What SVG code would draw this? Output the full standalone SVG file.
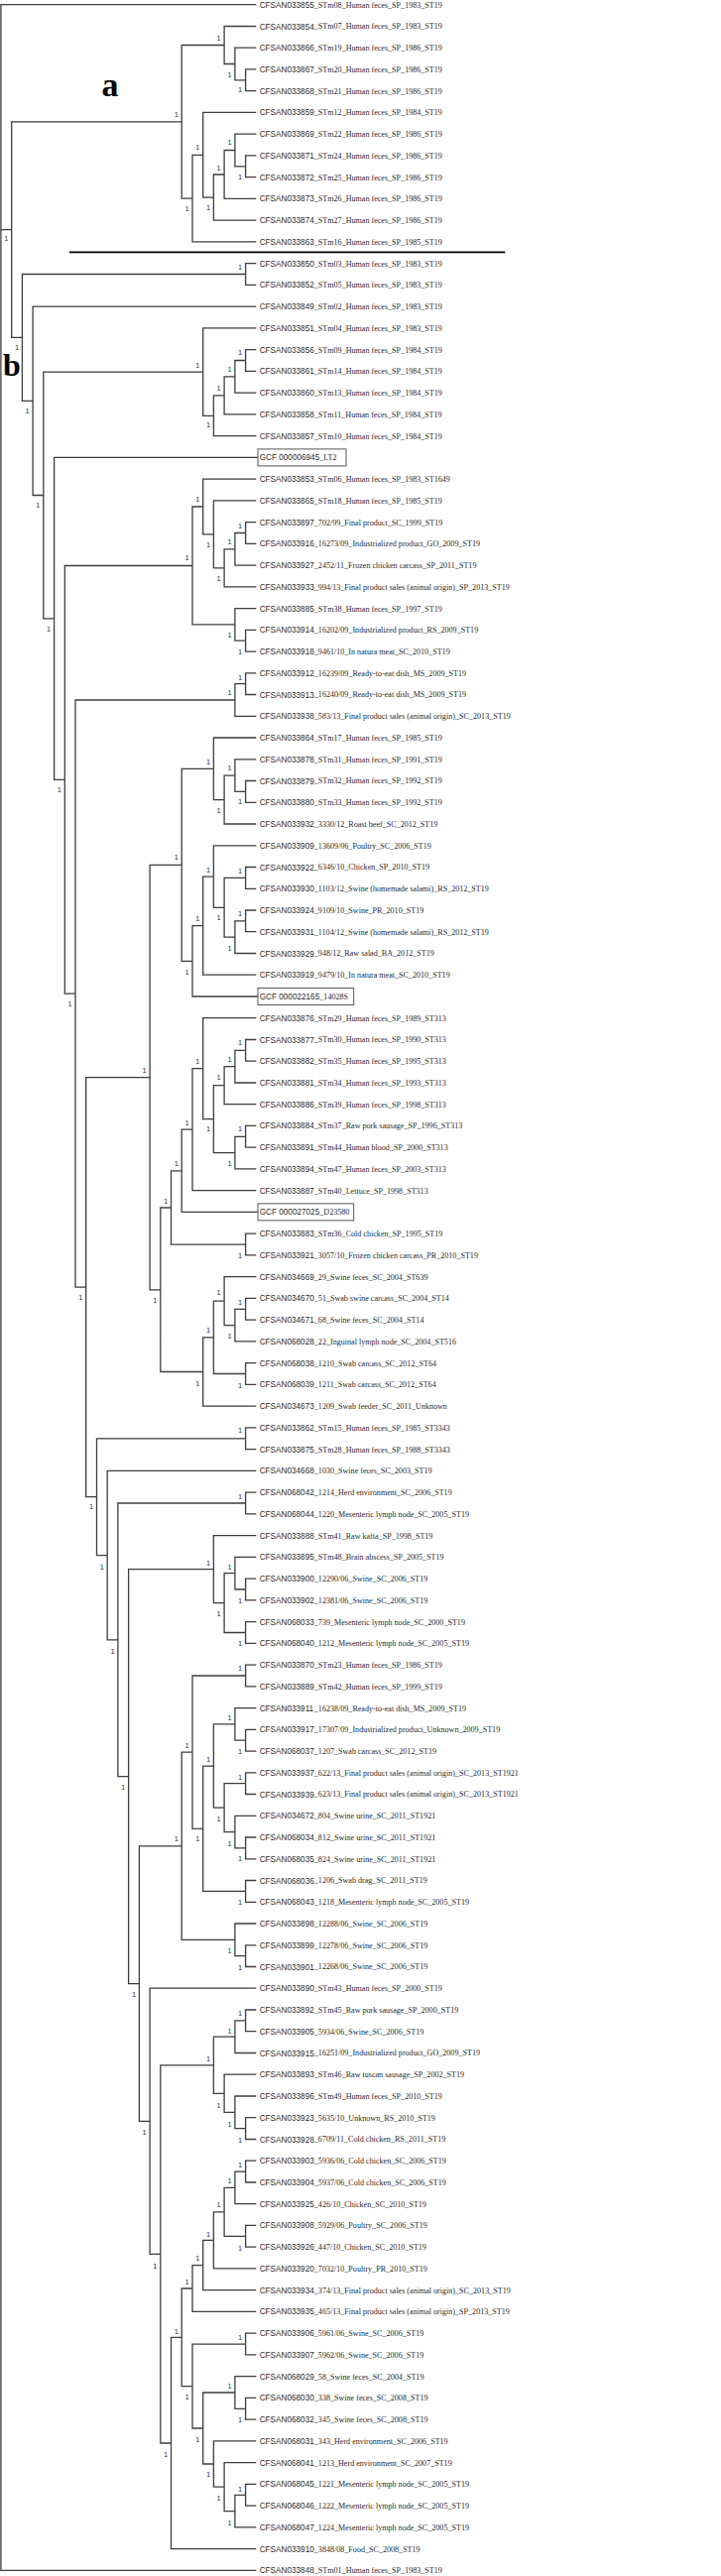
<svg xmlns="http://www.w3.org/2000/svg" width="727" height="2598" viewBox="0 0 727 2598">
<style>
.br{fill:none;stroke:#3d3d3d;stroke-width:1.3}
.i{font-family:"Liberation Sans",Arial,sans-serif;font-size:8.2px;fill:#2a2a2a}
.t{font-family:"Liberation Serif","Times New Roman",serif;font-size:8.8px;fill:#2a2a2a}
.bs{font-family:"Liberation Sans",Arial,sans-serif;font-size:7.5px;fill:#333;text-anchor:middle}
.big{font-family:"Liberation Serif","Times New Roman",serif;font-weight:bold;fill:#000;text-anchor:middle}
.box{fill:none;stroke:#555;stroke-width:1}
</style>
<rect width="727" height="2598" fill="#fff"/>
<g id="branches" class="br">
<path d="M258.3,69.9H247.6V91.7H258.3M258.3,48.2H236.9V80.8H247.6M258.3,26.5H226.1V64.5H236.9M258.3,156.9H247.6V178.7H258.3M258.3,135.2H236.9V167.8H247.6M236.9,151.5H226.1V200.4H258.3M226.1,176.0H215.4V222.2H258.3M258.3,113.4H204.7V199.1H215.4M204.7,156.3H194.0V243.9H258.3M226.1,45.5H183.2V200.1H194.0"/>
<path d="M258.3,265.6H247.6V287.4H258.3M258.3,352.6H247.6V374.4H258.3M247.6,363.5H236.9V396.1H258.3M236.9,379.8H226.1V417.9H258.3M226.1,398.9H215.4V439.6H258.3M258.3,330.9H204.7V419.3H215.4"/>
<path d="M258.3,526.6H247.6V548.3H258.3M247.6,537.5H236.9V570.1H258.3M236.9,553.8H226.1V591.8H258.3M258.3,504.8H215.4V572.8H226.1M258.3,483.1H204.7V538.8H215.4M258.3,635.3H247.6V657.1H258.3M258.3,613.6H236.9V646.2H247.6M204.7,511.0H194.0V629.9H236.9"/>
<path d="M258.3,678.8H247.6V700.5H258.3M247.6,689.7H236.9V722.3H258.3"/>
<path d="M258.3,787.5H247.6V809.3H258.3M258.3,765.8H236.9V798.4H247.6M236.9,782.1H226.1V831.0H258.3M258.3,744.0H215.4V806.6H226.1M258.3,874.5H247.6V896.3H258.3M258.3,918.0H247.6V939.7H258.3M247.6,928.9H236.9V961.5H258.3M247.6,885.4H226.1V945.2H236.9M258.3,852.8H215.4V915.3H226.1M215.4,884.1H204.7V983.2H258.3M204.7,933.7H194.0V1005.0H260M215.4,775.3H183.2V969.4H194.0"/>
<path d="M258.3,1048.5H247.6V1070.2H258.3M247.6,1059.4H236.9V1092.0H258.3M236.9,1075.7H226.1V1113.7H258.3M258.3,1135.4H247.6V1157.2H258.3M247.6,1146.3H236.9V1178.9H258.3M226.1,1094.7H215.4V1162.6H236.9M258.3,1026.7H204.7V1128.7H215.4M204.7,1077.7H194.0V1200.7H258.3M194.0,1139.2H183.2V1222.4H260M258.3,1244.2H247.6V1265.9H258.3M183.2,1180.8H172.5V1255.1H247.6"/>
<path d="M258.3,1309.4H247.6V1331.2H258.3M247.6,1320.3H236.9V1352.9H258.3M258.3,1287.7H226.1V1336.6H236.9M258.3,1374.6H247.6V1396.4H258.3M226.1,1312.2H215.4V1385.5H247.6M215.4,1348.9H204.7V1418.1H258.3M172.5,1218.0H161.8V1383.5H204.7M183.2,872.4H151.1V1300.8H161.8"/>
<path d="M258.3,1439.9H247.6V1461.6H258.3M258.3,1505.1H247.6V1526.9H258.3M258.3,1592.1H247.6V1613.8H258.3M258.3,1570.3H236.9V1603.0H247.6M258.3,1635.6H247.6V1657.3H258.3M236.9,1586.7H226.1V1646.5H247.6M258.3,1548.6H215.4V1616.6H226.1"/>
<path d="M258.3,1679.1H247.6V1700.8H258.3M258.3,1744.3H247.6V1766.1H258.3M258.3,1722.6H236.9V1755.2H247.6M258.3,1787.8H247.6V1809.5H258.3M258.3,1853.0H247.6V1874.8H258.3M258.3,1831.3H236.9V1863.9H247.6M247.6,1798.7H226.1V1847.6H236.9M236.9,1738.9H215.4V1823.2H226.1M258.3,1896.5H247.6V1918.3H258.3M215.4,1781.1H204.7V1907.4H247.6M247.6,1690.0H194.0V1844.3H204.7M258.3,1961.8H247.6V1983.5H258.3M258.3,1940.0H236.9V1972.7H247.6M194.0,1767.2H183.2V1956.4H236.9"/>
<path d="M258.3,2027.0H247.6V2048.7H258.3M247.6,2037.9H236.9V2070.5H258.3M258.3,2135.7H247.6V2157.5H258.3M258.3,2114.0H236.9V2146.6H247.6M258.3,2092.2H226.1V2130.3H236.9M236.9,2054.2H215.4V2111.3H226.1"/>
<path d="M258.3,2179.2H247.6V2201.0H258.3M247.6,2190.1H236.9V2222.7H258.3M258.3,2244.4H247.6V2266.2H258.3M236.9,2206.4H226.1V2255.3H247.6M226.1,2230.9H215.4V2287.9H258.3M215.4,2259.4H204.7V2309.7H258.3M204.7,2284.6H194.0V2331.4H258.3M258.3,2353.2H247.6V2374.9H258.3M258.3,2418.4H247.6V2440.1H258.3M258.3,2396.7H236.9V2429.3H247.6M258.3,2505.4H247.6V2527.1H258.3M247.6,2516.3H236.9V2548.9H258.3M258.3,2483.6H226.1V2532.6H236.9M258.3,2461.9H215.4V2508.1H226.1M236.9,2413.0H204.7V2485.0H215.4M247.6,2364.1H194.0V2449.0H204.7M194.0,2308.0H183.2V2406.6H194.0"/>
<path d="M183.2,2357.3H172.5V2570.6H258.3M215.4,2082.8H161.8V2464.0H172.5M258.3,2005.2H151.1V2273.4H161.8M183.2,1861.8H140.4V2139.3H151.1M215.4,1582.6H129.6V2000.6H140.4M247.6,1516.0H118.9V1791.6H129.6M258.3,1483.4H108.2V1653.8H118.9M247.6,1450.8H97.5V1568.6H108.2M151.1,1086.6H86.7V1509.7H97.5M236.9,706.0H76.0V1298.2H86.7M194.0,570.5H65.3V1002.1H76.0M260,461.4H54.6V786.3H65.3M204.7,375.1H43.8V623.9H54.6M258.3,309.1H33.1V499.5H43.8M247.6,276.5H22.4V404.3H33.1M183.2,122.8H11.7V340.4H22.4M258.3,4.7H0.9V2592.4H258.3M0.9,231.6H11.7"/>
</g>
<g id="clade-marks">
<text class="big" x="111" y="97" font-size="34">a</text>
<text class="big" x="12" y="378.5" font-size="32">b</text>
<path d="M70,254.3H509.3" stroke="#000" stroke-width="1.8" fill="none"/>
</g>
<g id="support" class="bs">
<text x="220.7" y="41.1">1</text><text x="231.5" y="77.8">1</text><text x="242.2" y="92.8">1</text><text x="177.8" y="117.8">1</text><text x="199.3" y="150.5">1</text><text x="231.5" y="146.1">1</text><text x="220.7" y="172.1">1</text><text x="242.2" y="181.1">1</text><text x="188.6" y="212.8">1</text><text x="210" y="212.1">1</text>
<text x="6.3" y="243.1">1</text><text x="242.2" y="271.5">1</text><text x="17" y="352.5">1</text><text x="199.3" y="370.5">1</text><text x="242.2" y="357.5">1</text><text x="231.5" y="374.8">1</text><text x="220.7" y="393.8">1</text><text x="27.7" y="417.1">1</text><text x="210" y="430.5">1</text>
<text x="199.3" y="506.1">1</text><text x="210" y="551.8">1</text><text x="242.2" y="532.8">1</text><text x="231.5" y="549.1">1</text><text x="220.7" y="586.1">1</text><text x="188.6" y="565.1">1</text><text x="38.4" y="511.8">1</text><text x="49.2" y="636.8">1</text><text x="231.5" y="642.8">1</text><text x="242.2" y="659.5">1</text>
<text x="242.2" y="685.5">1</text><text x="231.5" y="701.1">1</text><text x="210" y="770.5">1</text><text x="231.5" y="777.1">1</text><text x="242.2" y="810.5">1</text><text x="220.7" y="819.5">1</text><text x="59.9" y="798.8">1</text><text x="177.8" y="867.1">1</text><text x="210" y="880.1">1</text><text x="242.2" y="880.8">1</text>
<text x="220.7" y="928.1">1</text><text x="242.2" y="923.5">1</text><text x="199.3" y="929.1">1</text><text x="231.5" y="959.1">1</text><text x="188.6" y="983.1">1</text><text x="70.6" y="1015.1">1</text><text x="242.2" y="1054.1">1</text><text x="231.5" y="1070.8">1</text><text x="199.3" y="1072.5">1</text><text x="145.7" y="1081.5">1</text>
<text x="220.7" y="1088.8">1</text><text x="188.6" y="1134.5">1</text><text x="210" y="1141.1">1</text><text x="242.2" y="1141.1">1</text><text x="177.8" y="1176.1">1</text><text x="231.5" y="1176.1">1</text><text x="167.1" y="1213.8">1</text><text x="242.2" y="1268.8">1</text>
<text x="220.7" y="1306.3">1</text><text x="81.3" y="1310.8">1</text><text x="156.4" y="1314.1">1</text><text x="242.2" y="1315.5">1</text><text x="210" y="1344.1">1</text><text x="231.5" y="1349.8">1</text><text x="199.3" y="1397.5">1</text><text x="242.2" y="1399.8">1</text>
<text x="242.2" y="1444.8">1</text><text x="242.2" y="1511.5">1</text><text x="92.1" y="1522.3">1</text><text x="102.8" y="1582.5">1</text><text x="210" y="1578.5">1</text><text x="231.5" y="1582.5">1</text><text x="242.2" y="1616.8">1</text><text x="220.7" y="1630.1">1</text><text x="113.5" y="1667.5">1</text><text x="242.2" y="1660.1">1</text>
<text x="242.2" y="1685.1">1</text><text x="231.5" y="1734.5">1</text><text x="188.6" y="1762.8">1</text><text x="242.2" y="1768.8">1</text><text x="210" y="1777.1">1</text><text x="242.2" y="1794.8">1</text><text x="124.2" y="1804.8">1</text><text x="220.7" y="1837.1">1</text><text x="177.8" y="1857.1">1</text><text x="199.3" y="1857.1">1</text>
<text x="231.5" y="1861.5">1</text><text x="242.2" y="1877.1">1</text><text x="242.2" y="1920.5">1</text><text x="231.5" y="1969.8">1</text><text x="242.2" y="1986.5">1</text><text x="135" y="2014.1">1</text>
<text x="242.2" y="2033.1">1</text><text x="231.5" y="2050.8">1</text><text x="210" y="2078.5">1</text><text x="220.7" y="2125.8">1</text><text x="231.5" y="2144.8">1</text><text x="145.7" y="2153.1">1</text><text x="242.2" y="2160.8">1</text>
<text x="242.2" y="2186.1">1</text><text x="231.5" y="2202.1">1</text><text x="220.7" y="2226.1">1</text><text x="210" y="2256.1">1</text><text x="242.2" y="2269.5">1</text><text x="199.3" y="2280.1">1</text><text x="156.4" y="2287.8">1</text><text x="188.6" y="2303.8">1</text><text x="177.8" y="2353.8">1</text><text x="242.2" y="2360.1">1</text>
<text x="231.5" y="2409.1">1</text><text x="188.6" y="2419.8">1</text><text x="242.2" y="2443.1">1</text><text x="199.3" y="2462.5">1</text><text x="167.1" y="2478.1">1</text><text x="210" y="2498.1">1</text><text x="242.2" y="2512.5">1</text><text x="220.7" y="2521.5">1</text><text x="231.5" y="2546.5">1</text>
</g>
<g id="leaves">
<g id="leaf001"><text class="i" x="261.7" y="7.7">CFSAN033855</text><text class="t" transform="matrix(.92 0 0 1 316.8 0)" y="7.7">_STm08_Human feces_SP_1983_ST19</text></g>
<g id="leaf002"><text class="i" x="261.7" y="29.5">CFSAN033854</text><text class="t" transform="matrix(.92 0 0 1 316.8 0)" y="29.5">_STm07_Human feces_SP_1983_ST19</text></g>
<g id="leaf003"><text class="i" x="261.7" y="51.2">CFSAN033866</text><text class="t" transform="matrix(.92 0 0 1 316.8 0)" y="51.2">_STm19_Human feces_SP_1986_ST19</text></g>
<g id="leaf004"><text class="i" x="261.7" y="72.9">CFSAN033867</text><text class="t" transform="matrix(.92 0 0 1 316.8 0)" y="72.9">_STm20_Human feces_SP_1986_ST19</text></g>
<g id="leaf005"><text class="i" x="261.7" y="94.7">CFSAN033868</text><text class="t" transform="matrix(.92 0 0 1 316.8 0)" y="94.7">_STm21_Human feces_SP_1986_ST19</text></g>
<g id="leaf006"><text class="i" x="261.7" y="116.4">CFSAN033859</text><text class="t" transform="matrix(.92 0 0 1 316.8 0)" y="116.4">_STm12_Human feces_SP_1984_ST19</text></g>
<g id="leaf007"><text class="i" x="261.7" y="138.2">CFSAN033869</text><text class="t" transform="matrix(.92 0 0 1 316.8 0)" y="138.2">_STm22_Human feces_SP_1986_ST19</text></g>
<g id="leaf008"><text class="i" x="261.7" y="159.9">CFSAN033871</text><text class="t" transform="matrix(.92 0 0 1 316.8 0)" y="159.9">_STm24_Human feces_SP_1986_ST19</text></g>
<g id="leaf009"><text class="i" x="261.7" y="181.7">CFSAN033872</text><text class="t" transform="matrix(.92 0 0 1 316.8 0)" y="181.7">_STm25_Human feces_SP_1986_ST19</text></g>
<g id="leaf010"><text class="i" x="261.7" y="203.4">CFSAN033873</text><text class="t" transform="matrix(.92 0 0 1 316.8 0)" y="203.4">_STm26_Human feces_SP_1986_ST19</text></g>
<g id="leaf011"><text class="i" x="261.7" y="225.2">CFSAN033874</text><text class="t" transform="matrix(.92 0 0 1 316.8 0)" y="225.2">_STm27_Human feces_SP_1986_ST19</text></g>
<g id="leaf012"><text class="i" x="261.7" y="246.9">CFSAN033863</text><text class="t" transform="matrix(.92 0 0 1 316.8 0)" y="246.9">_STm16_Human feces_SP_1985_ST19</text></g>
<g id="leaf013"><text class="i" x="261.7" y="268.6">CFSAN033850</text><text class="t" transform="matrix(.92 0 0 1 316.8 0)" y="268.6">_STm03_Human feces_SP_1983_ST19</text></g>
<g id="leaf014"><text class="i" x="261.7" y="290.4">CFSAN033852</text><text class="t" transform="matrix(.92 0 0 1 316.8 0)" y="290.4">_STm05_Human feces_SP_1983_ST19</text></g>
<g id="leaf015"><text class="i" x="261.7" y="312.1">CFSAN033849</text><text class="t" transform="matrix(.92 0 0 1 316.8 0)" y="312.1">_STm02_Human feces_SP_1983_ST19</text></g>
<g id="leaf016"><text class="i" x="261.7" y="333.9">CFSAN033851</text><text class="t" transform="matrix(.92 0 0 1 316.8 0)" y="333.9">_STm04_Human feces_SP_1983_ST19</text></g>
<g id="leaf017"><text class="i" x="261.7" y="355.6">CFSAN033856</text><text class="t" transform="matrix(.92 0 0 1 316.8 0)" y="355.6">_STm09_Human feces_SP_1984_ST19</text></g>
<g id="leaf018"><text class="i" x="261.7" y="377.4">CFSAN033861</text><text class="t" transform="matrix(.92 0 0 1 316.8 0)" y="377.4">_STm14_Human feces_SP_1984_ST19</text></g>
<g id="leaf019"><text class="i" x="261.7" y="399.1">CFSAN033860</text><text class="t" transform="matrix(.92 0 0 1 316.8 0)" y="399.1">_STm13_Human feces_SP_1984_ST19</text></g>
<g id="leaf020"><text class="i" x="261.7" y="420.9">CFSAN033858</text><text class="t" transform="matrix(.92 0 0 1 316.8 0)" y="420.9">_STm11_Human feces_SP_1984_ST19</text></g>
<g id="leaf021"><text class="i" x="261.7" y="442.6">CFSAN033857</text><text class="t" transform="matrix(.92 0 0 1 316.8 0)" y="442.6">_STm10_Human feces_SP_1984_ST19</text></g>
<g id="leaf022"><rect class="box" x="260" y="452.9" width="89" height="17"/><text class="i" x="261.7" y="464.4">GCF 000006945</text><text class="t" transform="matrix(.92 0 0 1 316.8 0)" x="6" y="464.4">_LT2</text></g>
<g id="leaf023"><text class="i" x="261.7" y="486.1">CFSAN033853</text><text class="t" transform="matrix(.92 0 0 1 316.8 0)" y="486.1">_STm06_Human feces_SP_1983_ST1649</text></g>
<g id="leaf024"><text class="i" x="261.7" y="507.8">CFSAN033865</text><text class="t" transform="matrix(.92 0 0 1 316.8 0)" y="507.8">_STm18_Human feces_SP_1985_ST19</text></g>
<g id="leaf025"><text class="i" x="261.7" y="529.6">CFSAN033897</text><text class="t" transform="matrix(.92 0 0 1 316.8 0)" y="529.6">_702/99_Final product_SC_1999_ST19</text></g>
<g id="leaf026"><text class="i" x="261.7" y="551.3">CFSAN033916</text><text class="t" transform="matrix(.92 0 0 1 316.8 0)" y="551.3">_16273/09_Industrialized product_GO_2009_ST19</text></g>
<g id="leaf027"><text class="i" x="261.7" y="573.1">CFSAN033927</text><text class="t" transform="matrix(.92 0 0 1 316.8 0)" y="573.1">_2452/11_Frozen chicken carcass_SP_2011_ST19</text></g>
<g id="leaf028"><text class="i" x="261.7" y="594.8">CFSAN033933</text><text class="t" transform="matrix(.92 0 0 1 316.8 0)" y="594.8">_994/13_Final product sales (animal origin)_SP_2013_ST19</text></g>
<g id="leaf029"><text class="i" x="261.7" y="616.6">CFSAN033885</text><text class="t" transform="matrix(.92 0 0 1 316.8 0)" y="616.6">_STm38_Human feces_SP_1997_ST19</text></g>
<g id="leaf030"><text class="i" x="261.7" y="638.3">CFSAN033914</text><text class="t" transform="matrix(.92 0 0 1 316.8 0)" y="638.3">_16202/09_Industrialized product_RS_2009_ST19</text></g>
<g id="leaf031"><text class="i" x="261.7" y="660.1">CFSAN033918</text><text class="t" transform="matrix(.92 0 0 1 316.8 0)" y="660.1">_9461/10_In natura meat_SC_2010_ST19</text></g>
<g id="leaf032"><text class="i" x="261.7" y="681.8">CFSAN033912</text><text class="t" transform="matrix(.92 0 0 1 316.8 0)" y="681.8">_16239/09_Ready-to-eat dish_MS_2009_ST19</text></g>
<g id="leaf033"><text class="i" x="261.7" y="703.5">CFSAN033913</text><text class="t" transform="matrix(.92 0 0 1 316.8 0)" y="703.5">_16240/09_Ready-to-eat dish_MS_2009_ST19</text></g>
<g id="leaf034"><text class="i" x="261.7" y="725.3">CFSAN033938</text><text class="t" transform="matrix(.92 0 0 1 316.8 0)" y="725.3">_583/13_Final product sales (animal origin)_SC_2013_ST19</text></g>
<g id="leaf035"><text class="i" x="261.7" y="747.0">CFSAN033864</text><text class="t" transform="matrix(.92 0 0 1 316.8 0)" y="747.0">_STm17_Human feces_SP_1985_ST19</text></g>
<g id="leaf036"><text class="i" x="261.7" y="768.8">CFSAN033878</text><text class="t" transform="matrix(.92 0 0 1 316.8 0)" y="768.8">_STm31_Human feces_SP_1991_ST19</text></g>
<g id="leaf037"><text class="i" x="261.7" y="790.5">CFSAN033879</text><text class="t" transform="matrix(.92 0 0 1 316.8 0)" y="790.5">_STm32_Human feces_SP_1992_ST19</text></g>
<g id="leaf038"><text class="i" x="261.7" y="812.3">CFSAN033880</text><text class="t" transform="matrix(.92 0 0 1 316.8 0)" y="812.3">_STm33_Human feces_SP_1992_ST19</text></g>
<g id="leaf039"><text class="i" x="261.7" y="834.0">CFSAN033932</text><text class="t" transform="matrix(.92 0 0 1 316.8 0)" y="834.0">_3330/12_Roast beef_SC_2012_ST19</text></g>
<g id="leaf040"><text class="i" x="261.7" y="855.8">CFSAN033909</text><text class="t" transform="matrix(.92 0 0 1 316.8 0)" y="855.8">_13609/06_Poultry_SC_2006_ST19</text></g>
<g id="leaf041"><text class="i" x="261.7" y="877.5">CFSAN033922</text><text class="t" transform="matrix(.92 0 0 1 316.8 0)" y="877.5">_6346/10_Chicken_SP_2010_ST19</text></g>
<g id="leaf042"><text class="i" x="261.7" y="899.3">CFSAN033930</text><text class="t" transform="matrix(.92 0 0 1 316.8 0)" y="899.3">_1103/12_Swine (homemade salami)_RS_2012_ST19</text></g>
<g id="leaf043"><text class="i" x="261.7" y="921.0">CFSAN033924</text><text class="t" transform="matrix(.92 0 0 1 316.8 0)" y="921.0">_9109/10_Swine_PR_2010_ST19</text></g>
<g id="leaf044"><text class="i" x="261.7" y="942.7">CFSAN033931</text><text class="t" transform="matrix(.92 0 0 1 316.8 0)" y="942.7">_1104/12_Swine (homemade salami)_RS_2012_ST19</text></g>
<g id="leaf045"><text class="i" x="261.7" y="964.5">CFSAN033929</text><text class="t" transform="matrix(.92 0 0 1 316.8 0)" y="964.5">_948/12_Raw salad_BA_2012_ST19</text></g>
<g id="leaf046"><text class="i" x="261.7" y="986.2">CFSAN033919</text><text class="t" transform="matrix(.92 0 0 1 316.8 0)" y="986.2">_9479/10_In natura meat_SC_2010_ST19</text></g>
<g id="leaf047"><rect class="box" x="260" y="996.5" width="96.7" height="17"/><text class="i" x="261.7" y="1008.0">GCF 000022165</text><text class="t" transform="matrix(.92 0 0 1 316.8 0)" x="6" y="1008.0">_14028S</text></g>
<g id="leaf048"><text class="i" x="261.7" y="1029.7">CFSAN033876</text><text class="t" transform="matrix(.92 0 0 1 316.8 0)" y="1029.7">_STm29_Human feces_SP_1989_ST313</text></g>
<g id="leaf049"><text class="i" x="261.7" y="1051.5">CFSAN033877</text><text class="t" transform="matrix(.92 0 0 1 316.8 0)" y="1051.5">_STm30_Human feces_SP_1990_ST313</text></g>
<g id="leaf050"><text class="i" x="261.7" y="1073.2">CFSAN033882</text><text class="t" transform="matrix(.92 0 0 1 316.8 0)" y="1073.2">_STm35_Human feces_SP_1995_ST313</text></g>
<g id="leaf051"><text class="i" x="261.7" y="1095.0">CFSAN033881</text><text class="t" transform="matrix(.92 0 0 1 316.8 0)" y="1095.0">_STm34_Human feces_SP_1993_ST313</text></g>
<g id="leaf052"><text class="i" x="261.7" y="1116.7">CFSAN033886</text><text class="t" transform="matrix(.92 0 0 1 316.8 0)" y="1116.7">_STm39_Human feces_SP_1998_ST313</text></g>
<g id="leaf053"><text class="i" x="261.7" y="1138.4">CFSAN033884</text><text class="t" transform="matrix(.92 0 0 1 316.8 0)" y="1138.4">_STm37_Raw pork sausage_SP_1996_ST313</text></g>
<g id="leaf054"><text class="i" x="261.7" y="1160.2">CFSAN033891</text><text class="t" transform="matrix(.92 0 0 1 316.8 0)" y="1160.2">_STm44_Human blood_SP_2000_ST313</text></g>
<g id="leaf055"><text class="i" x="261.7" y="1181.9">CFSAN033894</text><text class="t" transform="matrix(.92 0 0 1 316.8 0)" y="1181.9">_STm47_Human feces_SP_2003_ST313</text></g>
<g id="leaf056"><text class="i" x="261.7" y="1203.7">CFSAN033887</text><text class="t" transform="matrix(.92 0 0 1 316.8 0)" y="1203.7">_STm40_Lettuce_SP_1998_ST313</text></g>
<g id="leaf057"><rect class="box" x="260" y="1213.9" width="96.7" height="17"/><text class="i" x="261.7" y="1225.4">GCF 000027025</text><text class="t" transform="matrix(.92 0 0 1 316.8 0)" x="6" y="1225.4">_D23580</text></g>
<g id="leaf058"><text class="i" x="261.7" y="1247.2">CFSAN033883</text><text class="t" transform="matrix(.92 0 0 1 316.8 0)" y="1247.2">_STm36_Cold chicken_SP_1995_ST19</text></g>
<g id="leaf059"><text class="i" x="261.7" y="1268.9">CFSAN033921</text><text class="t" transform="matrix(.92 0 0 1 316.8 0)" y="1268.9">_3057/10_Frozen chicken carcass_PR_2010_ST19</text></g>
<g id="leaf060"><text class="i" x="261.7" y="1290.7">CFSAN034669</text><text class="t" transform="matrix(.92 0 0 1 316.8 0)" y="1290.7">_29_Swine feces_SC_2004_ST639</text></g>
<g id="leaf061"><text class="i" x="261.7" y="1312.4">CFSAN034670</text><text class="t" transform="matrix(.92 0 0 1 316.8 0)" y="1312.4">_51_Swab swine carcass_SC_2004_ST14</text></g>
<g id="leaf062"><text class="i" x="261.7" y="1334.2">CFSAN034671</text><text class="t" transform="matrix(.92 0 0 1 316.8 0)" y="1334.2">_68_Swine feces_SC_2004_ST14</text></g>
<g id="leaf063"><text class="i" x="261.7" y="1355.9">CFSAN068028</text><text class="t" transform="matrix(.92 0 0 1 316.8 0)" y="1355.9">_22_Inguinal lymph node_SC_2004_ST516</text></g>
<g id="leaf064"><text class="i" x="261.7" y="1377.6">CFSAN068038</text><text class="t" transform="matrix(.92 0 0 1 316.8 0)" y="1377.6">_1210_Swab carcass_SC_2012_ST64</text></g>
<g id="leaf065"><text class="i" x="261.7" y="1399.4">CFSAN068039</text><text class="t" transform="matrix(.92 0 0 1 316.8 0)" y="1399.4">_1211_Swab carcass_SC_2012_ST64</text></g>
<g id="leaf066"><text class="i" x="261.7" y="1421.1">CFSAN034673</text><text class="t" transform="matrix(.92 0 0 1 316.8 0)" y="1421.1">_1209_Swab feeder_SC_2011_Unknown</text></g>
<g id="leaf067"><text class="i" x="261.7" y="1442.9">CFSAN033862</text><text class="t" transform="matrix(.92 0 0 1 316.8 0)" y="1442.9">_STm15_Human feces_SP_1985_ST3343</text></g>
<g id="leaf068"><text class="i" x="261.7" y="1464.6">CFSAN033875</text><text class="t" transform="matrix(.92 0 0 1 316.8 0)" y="1464.6">_STm28_Human feces_SP_1988_ST3343</text></g>
<g id="leaf069"><text class="i" x="261.7" y="1486.4">CFSAN034668</text><text class="t" transform="matrix(.92 0 0 1 316.8 0)" y="1486.4">_1030_Swine feces_SC_2003_ST19</text></g>
<g id="leaf070"><text class="i" x="261.7" y="1508.1">CFSAN068042</text><text class="t" transform="matrix(.92 0 0 1 316.8 0)" y="1508.1">_1214_Herd environment_SC_2006_ST19</text></g>
<g id="leaf071"><text class="i" x="261.7" y="1529.9">CFSAN068044</text><text class="t" transform="matrix(.92 0 0 1 316.8 0)" y="1529.9">_1220_Mesenteric lymph node_SC_2005_ST19</text></g>
<g id="leaf072"><text class="i" x="261.7" y="1551.6">CFSAN033888</text><text class="t" transform="matrix(.92 0 0 1 316.8 0)" y="1551.6">_STm41_Raw kafta_SP_1998_ST19</text></g>
<g id="leaf073"><text class="i" x="261.7" y="1573.3">CFSAN033895</text><text class="t" transform="matrix(.92 0 0 1 316.8 0)" y="1573.3">_STm48_Brain abscess_SP_2005_ST19</text></g>
<g id="leaf074"><text class="i" x="261.7" y="1595.1">CFSAN033900</text><text class="t" transform="matrix(.92 0 0 1 316.8 0)" y="1595.1">_12290/06_Swine_SC_2006_ST19</text></g>
<g id="leaf075"><text class="i" x="261.7" y="1616.8">CFSAN033902</text><text class="t" transform="matrix(.92 0 0 1 316.8 0)" y="1616.8">_12381/06_Swine_SC_2006_ST19</text></g>
<g id="leaf076"><text class="i" x="261.7" y="1638.6">CFSAN068033</text><text class="t" transform="matrix(.92 0 0 1 316.8 0)" y="1638.6">_739_Mesenteric lymph node_SC_2000_ST19</text></g>
<g id="leaf077"><text class="i" x="261.7" y="1660.3">CFSAN068040</text><text class="t" transform="matrix(.92 0 0 1 316.8 0)" y="1660.3">_1212_Mesenteric lymph node_SC_2005_ST19</text></g>
<g id="leaf078"><text class="i" x="261.7" y="1682.1">CFSAN033870</text><text class="t" transform="matrix(.92 0 0 1 316.8 0)" y="1682.1">_STm23_Human feces_SP_1986_ST19</text></g>
<g id="leaf079"><text class="i" x="261.7" y="1703.8">CFSAN033889</text><text class="t" transform="matrix(.92 0 0 1 316.8 0)" y="1703.8">_STm42_Human feces_SP_1999_ST19</text></g>
<g id="leaf080"><text class="i" x="261.7" y="1725.6">CFSAN033911</text><text class="t" transform="matrix(.92 0 0 1 316.8 0)" y="1725.6">_16238/09_Ready-to-eat dish_MS_2009_ST19</text></g>
<g id="leaf081"><text class="i" x="261.7" y="1747.3">CFSAN033917</text><text class="t" transform="matrix(.92 0 0 1 316.8 0)" y="1747.3">_17307/09_Industrialized product_Unknown_2009_ST19</text></g>
<g id="leaf082"><text class="i" x="261.7" y="1769.1">CFSAN068037</text><text class="t" transform="matrix(.92 0 0 1 316.8 0)" y="1769.1">_1207_Swab carcass_SC_2012_ST19</text></g>
<g id="leaf083"><text class="i" x="261.7" y="1790.8">CFSAN033937</text><text class="t" transform="matrix(.92 0 0 1 316.8 0)" y="1790.8">_622/13_Final product sales (animal origin)_SC_2013_ST1921</text></g>
<g id="leaf084"><text class="i" x="261.7" y="1812.5">CFSAN033939</text><text class="t" transform="matrix(.92 0 0 1 316.8 0)" y="1812.5">_623/13_Final product sales (animal origin)_SC_2013_ST1921</text></g>
<g id="leaf085"><text class="i" x="261.7" y="1834.3">CFSAN034672</text><text class="t" transform="matrix(.92 0 0 1 316.8 0)" y="1834.3">_804_Swine urine_SC_2011_ST1921</text></g>
<g id="leaf086"><text class="i" x="261.7" y="1856.0">CFSAN068034</text><text class="t" transform="matrix(.92 0 0 1 316.8 0)" y="1856.0">_812_Swine urine_SC_2011_ST1921</text></g>
<g id="leaf087"><text class="i" x="261.7" y="1877.8">CFSAN068035</text><text class="t" transform="matrix(.92 0 0 1 316.8 0)" y="1877.8">_824_Swine urine_SC_2011_ST1921</text></g>
<g id="leaf088"><text class="i" x="261.7" y="1899.5">CFSAN068036</text><text class="t" transform="matrix(.92 0 0 1 316.8 0)" y="1899.5">_1206_Swab drag_SC_2011_ST19</text></g>
<g id="leaf089"><text class="i" x="261.7" y="1921.3">CFSAN068043</text><text class="t" transform="matrix(.92 0 0 1 316.8 0)" y="1921.3">_1218_Mesenteric lymph node_SC_2005_ST19</text></g>
<g id="leaf090"><text class="i" x="261.7" y="1943.0">CFSAN033898</text><text class="t" transform="matrix(.92 0 0 1 316.8 0)" y="1943.0">_12288/06_Swine_SC_2006_ST19</text></g>
<g id="leaf091"><text class="i" x="261.7" y="1964.8">CFSAN033899</text><text class="t" transform="matrix(.92 0 0 1 316.8 0)" y="1964.8">_12278/06_Swine_SC_2006_ST19</text></g>
<g id="leaf092"><text class="i" x="261.7" y="1986.5">CFSAN033901</text><text class="t" transform="matrix(.92 0 0 1 316.8 0)" y="1986.5">_12268/06_Swine_SC_2006_ST19</text></g>
<g id="leaf093"><text class="i" x="261.7" y="2008.2">CFSAN033890</text><text class="t" transform="matrix(.92 0 0 1 316.8 0)" y="2008.2">_STm43_Human feces_SP_2000_ST19</text></g>
<g id="leaf094"><text class="i" x="261.7" y="2030.0">CFSAN033892</text><text class="t" transform="matrix(.92 0 0 1 316.8 0)" y="2030.0">_STm45_Raw pork sausage_SP_2000_ST19</text></g>
<g id="leaf095"><text class="i" x="261.7" y="2051.7">CFSAN033905</text><text class="t" transform="matrix(.92 0 0 1 316.8 0)" y="2051.7">_5934/06_Swine_SC_2006_ST19</text></g>
<g id="leaf096"><text class="i" x="261.7" y="2073.5">CFSAN033915</text><text class="t" transform="matrix(.92 0 0 1 316.8 0)" y="2073.5">_16251/09_Industrialized product_GO_2009_ST19</text></g>
<g id="leaf097"><text class="i" x="261.7" y="2095.2">CFSAN033893</text><text class="t" transform="matrix(.92 0 0 1 316.8 0)" y="2095.2">_STm46_Raw tuscan sausage_SP_2002_ST19</text></g>
<g id="leaf098"><text class="i" x="261.7" y="2117.0">CFSAN033896</text><text class="t" transform="matrix(.92 0 0 1 316.8 0)" y="2117.0">_STm49_Human feces_SP_2010_ST19</text></g>
<g id="leaf099"><text class="i" x="261.7" y="2138.7">CFSAN033923</text><text class="t" transform="matrix(.92 0 0 1 316.8 0)" y="2138.7">_5635/10_Unknown_RS_2010_ST19</text></g>
<g id="leaf100"><text class="i" x="261.7" y="2160.5">CFSAN033928</text><text class="t" transform="matrix(.92 0 0 1 316.8 0)" y="2160.5">_6709/11_Cold chicken_RS_2011_ST19</text></g>
<g id="leaf101"><text class="i" x="261.7" y="2182.2">CFSAN033903</text><text class="t" transform="matrix(.92 0 0 1 316.8 0)" y="2182.2">_5936/06_Cold chicken_SC_2006_ST19</text></g>
<g id="leaf102"><text class="i" x="261.7" y="2204.0">CFSAN033904</text><text class="t" transform="matrix(.92 0 0 1 316.8 0)" y="2204.0">_5937/06_Cold chicken_SC_2006_ST19</text></g>
<g id="leaf103"><text class="i" x="261.7" y="2225.7">CFSAN033925</text><text class="t" transform="matrix(.92 0 0 1 316.8 0)" y="2225.7">_426/10_Chicken_SC_2010_ST19</text></g>
<g id="leaf104"><text class="i" x="261.7" y="2247.4">CFSAN033908</text><text class="t" transform="matrix(.92 0 0 1 316.8 0)" y="2247.4">_5929/06_Poultry_SC_2006_ST19</text></g>
<g id="leaf105"><text class="i" x="261.7" y="2269.2">CFSAN033926</text><text class="t" transform="matrix(.92 0 0 1 316.8 0)" y="2269.2">_447/10_Chicken_SC_2010_ST19</text></g>
<g id="leaf106"><text class="i" x="261.7" y="2290.9">CFSAN033920</text><text class="t" transform="matrix(.92 0 0 1 316.8 0)" y="2290.9">_7032/10_Poultry_PR_2010_ST19</text></g>
<g id="leaf107"><text class="i" x="261.7" y="2312.7">CFSAN033934</text><text class="t" transform="matrix(.92 0 0 1 316.8 0)" y="2312.7">_374/13_Final product sales (animal origin)_SC_2013_ST19</text></g>
<g id="leaf108"><text class="i" x="261.7" y="2334.4">CFSAN033935</text><text class="t" transform="matrix(.92 0 0 1 316.8 0)" y="2334.4">_465/13_Final product sales (animal origin)_SP_2013_ST19</text></g>
<g id="leaf109"><text class="i" x="261.7" y="2356.2">CFSAN033906</text><text class="t" transform="matrix(.92 0 0 1 316.8 0)" y="2356.2">_5961/06_Swine_SC_2006_ST19</text></g>
<g id="leaf110"><text class="i" x="261.7" y="2377.9">CFSAN033907</text><text class="t" transform="matrix(.92 0 0 1 316.8 0)" y="2377.9">_5962/06_Swine_SC_2006_ST19</text></g>
<g id="leaf111"><text class="i" x="261.7" y="2399.7">CFSAN068029</text><text class="t" transform="matrix(.92 0 0 1 316.8 0)" y="2399.7">_58_Swine feces_SC_2004_ST19</text></g>
<g id="leaf112"><text class="i" x="261.7" y="2421.4">CFSAN068030</text><text class="t" transform="matrix(.92 0 0 1 316.8 0)" y="2421.4">_338_Swine feces_SC_2008_ST19</text></g>
<g id="leaf113"><text class="i" x="261.7" y="2443.1">CFSAN068032</text><text class="t" transform="matrix(.92 0 0 1 316.8 0)" y="2443.1">_345_Swine feces_SC_2008_ST19</text></g>
<g id="leaf114"><text class="i" x="261.7" y="2464.9">CFSAN068031</text><text class="t" transform="matrix(.92 0 0 1 316.8 0)" y="2464.9">_343_Herd environment_SC_2006_ST19</text></g>
<g id="leaf115"><text class="i" x="261.7" y="2486.6">CFSAN068041</text><text class="t" transform="matrix(.92 0 0 1 316.8 0)" y="2486.6">_1213_Herd environment_SC_2007_ST19</text></g>
<g id="leaf116"><text class="i" x="261.7" y="2508.4">CFSAN068045</text><text class="t" transform="matrix(.92 0 0 1 316.8 0)" y="2508.4">_1221_Mesenteric lymph node_SC_2005_ST19</text></g>
<g id="leaf117"><text class="i" x="261.7" y="2530.1">CFSAN068046</text><text class="t" transform="matrix(.92 0 0 1 316.8 0)" y="2530.1">_1222_Mesenteric lymph node_SC_2005_ST19</text></g>
<g id="leaf118"><text class="i" x="261.7" y="2551.9">CFSAN068047</text><text class="t" transform="matrix(.92 0 0 1 316.8 0)" y="2551.9">_1224_Mesenteric lymph node_SC_2005_ST19</text></g>
<g id="leaf119"><text class="i" x="261.7" y="2573.6">CFSAN033910</text><text class="t" transform="matrix(.92 0 0 1 316.8 0)" y="2573.6">_3848/08_Food_SC_2008_ST19</text></g>
<g id="leaf120"><text class="i" x="261.7" y="2595.4">CFSAN033848</text><text class="t" transform="matrix(.92 0 0 1 316.8 0)" y="2595.4">_STm01_Human feces_SP_1983_ST19</text></g>
</g>
</svg>
